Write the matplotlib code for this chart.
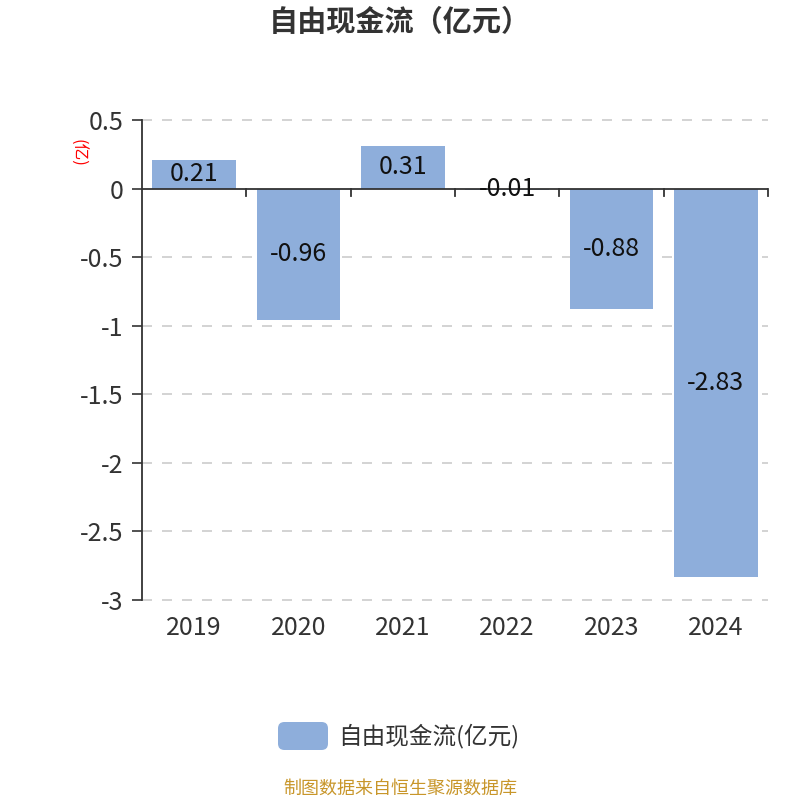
import matplotlib
matplotlib.use("Agg")
import matplotlib.pyplot as plt
from matplotlib.patches import FancyBboxPatch
import numpy as np

plt.rcParams['font.family'] = ['Noto Sans CJK SC', 'DejaVu Sans']

years = ["2019", "2020", "2021", "2022", "2023", "2024"]
values = [0.21, -0.96, 0.31, -0.01, -0.88, -2.83]
labels = ["0.21", "-0.96", "0.31", "-0.01", "-0.88", "-2.83"]
yticks = [0.5, 0, -0.5, -1, -1.5, -2, -2.5, -3]
yticklabels = ["0.5", "0", "-0.5", "-1", "-1.5", "-2", "-2.5", "-3"]

bar_color = "#8eaedb"
text_color = "#333333"

fig = plt.figure(figsize=(8, 8), dpi=100)
ax = fig.add_axes([142/800, 1-600/800, (768-142)/800, 480/800])

x = np.arange(len(years))
ax.bar(x, values, width=0.8, color=bar_color, zorder=2)
for xi, v, lab in zip(x, values, labels):
    ax.text(xi, v/2, lab, ha='center', va='center', fontsize=18, color='#111111', zorder=5)

ax.set_xlim(-0.5, len(years)-0.5)
ax.set_ylim(-3, 0.5)
ax.set_yticks(yticks)
ax.set_yticklabels(yticklabels, fontsize=18, color=text_color)
ax.set_xticks(x)
ax.set_xticklabels(years, fontsize=18, color=text_color)
ax.tick_params(axis='x', length=0, pad=11)
ax.tick_params(axis='y', length=7.5, width=1.2, color='#333333', pad=6)

for t in yticks:
    if t != 0:
        ax.axhline(t, color='#cccccc', linestyle=(0, (6, 6)), linewidth=1.2, zorder=1, clip_on=False)
ax.axhline(0, color='#333333', linewidth=1.3, zorder=4)
for b in np.arange(0.5, len(years), 1.0):
    ax.plot([b, b], [0, -0.055], color='#333333', linewidth=1.3, zorder=4, clip_on=False)

for s in ['top', 'right', 'bottom']:
    ax.spines[s].set_visible(False)
ax.spines['left'].set_color('#333333')
ax.spines['left'].set_linewidth(1.3)

fig.text(77/800, 1-153/800, "(亿)", rotation=-90, color='red', fontsize=12, ha='center', va='center')

fig.text(0.5, 1-22/800, "自由现金流（亿元）", ha='center', va='center', fontsize=21, fontweight='bold', color=text_color)

lp = FancyBboxPatch((278/800, 1-750/800), 50/800, 28/800, boxstyle="round,pad=0,rounding_size=0.008",
                    transform=fig.transFigure, color=bar_color, linewidth=0)
fig.patches.append(lp)
fig.text(338/800, 1-736/800, "自由现金流(亿元)", ha='left', va='center', fontsize=17, color=text_color)

fig.text(0.5, 1-789/800, "制图数据来自恒生聚源数据库", ha='center', va='center', fontsize=13, color='#c8962a')

fig.savefig("out.png", dpi=100)
